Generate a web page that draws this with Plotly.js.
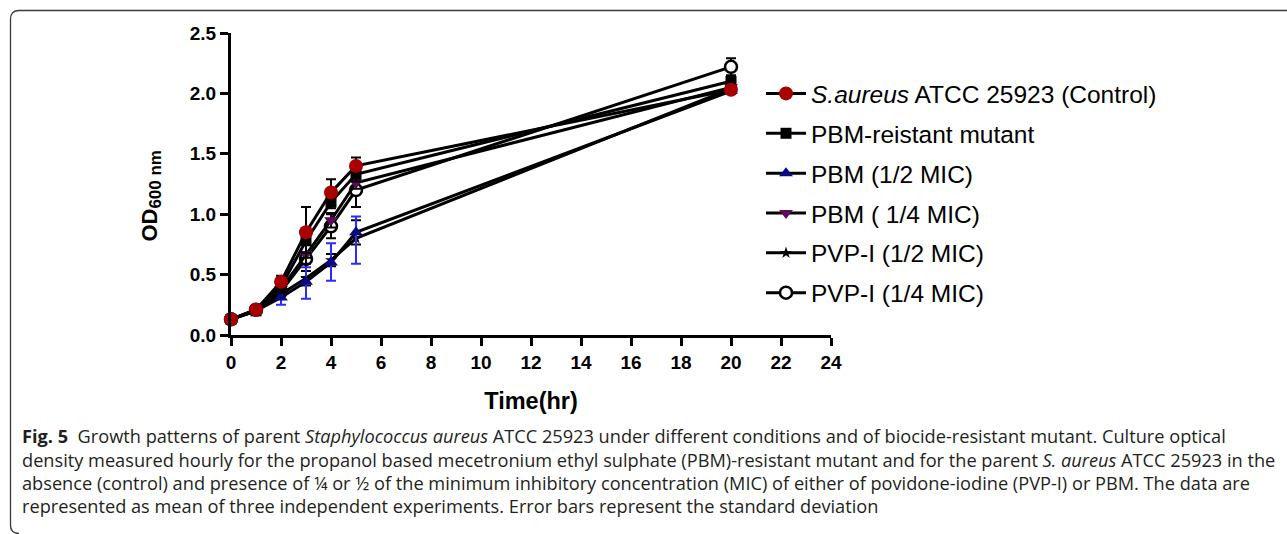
<!DOCTYPE html>
<html>
<head>
<meta charset="utf-8">
<script src="https://cdn.plot.ly/plotly-3.0.1.min.js"></script>
<style>
  html, body { margin: 0; padding: 0; background: #ffffff; }
  #chart { width: 1287px; height: 534px; }
</style>
</head>
<body>
<div id="chart"></div>
<script>
// ---- data ----
const timeHr = [0, 1, 2, 3, 4, 5, 20];

const seriesNames = [
  "<i>S.aureus</i> ATCC 25923 (Control)",
  "PBM-reistant mutant",
  "PBM (1/2 MIC)",
  "PBM ( 1/4 MIC)",
  "PVP-I (1/2 MIC)",
  "PVP-I (1/4 MIC)"
];

const odControl   = [0.13, 0.21, 0.44, 0.85, 1.18, 1.40, 2.03];
const odMutant    = [0.13, 0.20, 0.40, 0.78, 1.10, 1.33, 2.10];
const odPbmHalf   = [0.13, 0.20, 0.31, 0.44, 0.60, 0.85, 2.02];
const odPbmQuart  = [0.13, 0.21, 0.38, 0.67, 0.95, 1.26, 2.05];
const odPvpHalf   = [0.13, 0.20, 0.34, 0.47, 0.62, 0.80, 2.04];
const odPvpQuart  = [0.13, 0.21, 0.36, 0.63, 0.90, 1.20, 2.22];

// error bars (upper / lower)
const sdControlUp   = [0.01, 0.02, 0.05, 0.21, 0.11, 0.07, 0.01];
const sdControlDn   = [0.01, 0.02, 0.05, 0.21, 0.11, 0.07, 0.01];
const sdMutantUp    = [0.01, 0.02, 0.05, 0.10, 0.05, 0.06, 0.03];
const sdMutantDn    = [0.01, 0.02, 0.05, 0.10, 0.05, 0.06, 0.03];
const sdPbmHalfUp   = [0.01, 0.02, 0.04, 0.12, 0.16, 0.13, 0.02];
const sdPbmHalfDn   = [0.01, 0.02, 0.06, 0.14, 0.15, 0.26, 0.02];
const sdPbmQuartUp  = [0.01, 0.02, 0.04, 0.08, 0.06, 0.05, 0.03];
const sdPbmQuartDn  = [0.01, 0.02, 0.04, 0.08, 0.06, 0.05, 0.03];
const sdPvpHalfUp   = [0.01, 0.02, 0.04, 0.06, 0.05, 0.15, 0.03];
const sdPvpHalfDn   = [0.01, 0.02, 0.04, 0.06, 0.05, 0.05, 0.03];
const sdPvpQuartUp  = [0.01, 0.02, 0.04, 0.15, 0.10, 0.08, 0.07];
const sdPvpQuartDn  = [0.01, 0.02, 0.04, 0.15, 0.10, 0.14, 0.07];

const xTickVals = [0, 2, 4, 6, 8, 10, 12, 14, 16, 18, 20, 22, 24];
const yTickVals = [0.0, 0.5, 1.0, 1.5, 2.0, 2.5];

const xTitle = "Time(hr)";
const yTitle = "OD<sub><span style='font-size:17px'>600 nm\u00a0\u00a0\u00a0\u00a0\u00a0</span></sub>";

const captionLines = [
  "<b>Fig. 5</b>\u00a0\u00a0Growth patterns of parent <i>Staphylococcus aureus</i> ATCC 25923 under different conditions and of biocide-resistant mutant. Culture optical",
  "density measured hourly for the propanol based mecetronium ethyl sulphate (PBM)-resistant mutant and for the parent <i>S. aureus</i> ATCC 25923 in the",
  "absence (control) and presence of \u00bc or \u00bd of the minimum inhibitory concentration (MIC) of either of povidone-iodine (PVP-I) or PBM. The data are",
  "represented as mean of three independent experiments. Error bars represent the standard deviation"
];

// ---- styles ----
const styles = [
  { y: odControl,  up: sdControlUp,  dn: sdControlDn,  sym: "circle",        size: 14, color: "#a80000", lineColor: "#a80000", lw: 0,   err: "#000000", rank: 1, z: 6 },
  { y: odMutant,   up: sdMutantUp,   dn: sdMutantDn,   sym: "square",        size: 11, color: "#000000", lineColor: "#000000", lw: 0,   err: "#000000", rank: 2, z: 5 },
  { y: odPbmHalf,  up: sdPbmHalfUp,  dn: sdPbmHalfDn,  sym: "triangle-up",   size: 12, color: "#0a0a85", lineColor: "#0a0a85", lw: 0,   err: "#2b2bff", rank: 3, z: 4 },
  { y: odPbmQuart, up: sdPbmQuartUp, dn: sdPbmQuartDn, sym: "triangle-down", size: 12, color: "#5e0a5e", lineColor: "#5e0a5e", lw: 0,   err: "#000000", rank: 4, z: 3 },
  { y: odPvpHalf,  up: sdPvpHalfUp,  dn: sdPvpHalfDn,  sym: "star",          size: 9,  color: "#000000", lineColor: "#000000", lw: 0,   err: "#000000", rank: 5, z: 2 },
  { y: odPvpQuart, up: sdPvpQuartUp, dn: sdPvpQuartDn, sym: "circle",        size: 12, color: "#ffffff", lineColor: "#000000", lw: 2.5, err: "#000000", rank: 6, z: 1 }
];

const traces = styles.map((s, i) => ({
  type: "scatter",
  mode: "lines+markers",
  name: seriesNames[i],
  x: timeHr,
  y: s.y,
  legendgroup: "g" + i,
  legendrank: s.rank,
  cliponaxis: false,
  line: { color: "#000000", width: 3 },
  marker: { symbol: s.sym, size: s.size, color: s.color, line: { color: s.lineColor, width: s.lw } },
  error_y: { type: "data", symmetric: false, array: s.up, arrayminus: s.dn, visible: true, color: s.err, thickness: 2, width: 5 },
  _z: s.z
}));
// draw order: lowest z first (control on top)
traces.sort((a, b) => a._z - b._z);
traces.forEach(t => delete t._z);

// pixel -> paper helpers for annotation / frame placement
const L = 231, R = 831, T = 33, B = 335;
const PX = x => (x - L) / (R - L);
const PY = y => (B - y) / (B - T);

const boldFont = (size) => ({ family: "Liberation Sans, Arial, sans-serif", size: size, color: "#000000", weight: "bold" });

const framePath =
  `M ${PX(1295)},${PY(10.5)} L ${PX(19)},${PY(10.5)} Q ${PX(10.5)},${PY(10.5)} ${PX(10.5)},${PY(19)} ` +
  `L ${PX(10.5)},${PY(525)} Q ${PX(10.5)},${PY(533.5)} ${PX(19)},${PY(533.5)}`;

const captionY = [436, 460, 483, 506];
const annotations = captionLines.map((txt, i) => ({
  text: txt,
  xref: "paper", yref: "paper",
  x: PX(20), y: PY(captionY[i]),
  xanchor: "left", yanchor: "middle",
  showarrow: false,
  align: "left",
  font: { family: "Open Sans, sans-serif", size: 18.2, color: "#231f20" }
}));

const layout = {
  width: 1287,
  height: 534,
  margin: { l: L, r: 1287 - R, t: T, b: 534 - B, pad: 0 },
  paper_bgcolor: "#ffffff",
  plot_bgcolor: "#ffffff",
  showlegend: true,
  xaxis: {
    range: [0, 24],
    tickmode: "array",
    tickvals: xTickVals,
    ticktext: xTickVals.map(String),
    showline: true, linewidth: 3, linecolor: "#000000",
    ticks: "outside", ticklen: 8, tickwidth: 3, tickcolor: "#000000",
    showgrid: false, zeroline: false,
    tickfont: boldFont(19),
    title: { text: xTitle, font: boldFont(23.5), standoff: 21 }
  },
  yaxis: {
    range: [0, 2.5],
    tickmode: "array",
    tickvals: yTickVals,
    ticktext: yTickVals.map(v => v.toFixed(1)),
    showline: true, linewidth: 3, linecolor: "#000000",
    ticks: "outside", ticklen: 8, tickwidth: 3, tickcolor: "#000000",
    showgrid: false, zeroline: false,
    tickfont: boldFont(19),
    title: { text: yTitle, font: boldFont(22), standoff: 27 }
  },
  legend: {
    x: PX(761), y: PY(71),
    xanchor: "left", yanchor: "top",
    bgcolor: "rgba(0,0,0,0)",
    borderwidth: 0,
    traceorder: "grouped",
    tracegroupgap: 5,
    itemwidth: 40,
    font: { family: "Liberation Sans, Arial, sans-serif", size: 24.5, color: "#000000" }
  },
  shapes: [
    { type: "path", xref: "paper", yref: "paper", path: framePath, line: { color: "#3a3a3a", width: 1.3 }, layer: "below" }
  ],
  annotations: annotations
};

Plotly.newPlot("chart", traces, layout, { displayModeBar: false, staticPlot: true });
</script>
</body>
</html>
